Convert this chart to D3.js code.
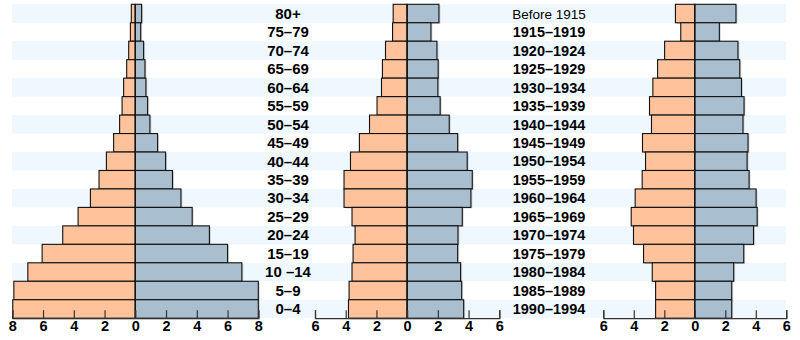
<!DOCTYPE html>
<html>
<head>
<meta charset="utf-8">
<script src="https://cdn.jsdelivr.net/npm/d3@7"></script>
<style>
  html, body { margin: 0; padding: 0; background: #fff; }
  svg { display: block; }
  text { font-family: "Liberation Sans", Arial, Helvetica, sans-serif; }
</style>
</head>
<body>
<svg id="chart" width="800" height="340"></svg>
<script>
// ---- Data (top row first) ----
const ageGroups = ["80+","75–79","70–74","65–69","60–64","55–59","50–54","45–49","40–44","35–39","30–34","25–29","20–24","15–19","10 –14","5–9","0–4"];
const birthYears = ["Before 1915","1915–1919","1920–1924","1925–1929","1930–1934","1935–1939","1940–1944","1945–1949","1950–1954","1955–1959","1960–1964","1965–1969","1970–1974","1975–1979","1980–1984","1985–1989","1990–1994"];

// Pyramid 1
const p1Left  = [0.26,0.32,0.43,0.56,0.76,0.86,1.02,1.41,1.88,2.36,2.92,3.72,4.72,6.06,6.99,7.90,7.97];
const p1Right = [0.41,0.35,0.54,0.63,0.69,0.80,0.95,1.45,1.97,2.42,2.97,3.70,4.82,6.00,6.93,8.00,8.00];
// Pyramid 2
const p2Left  = [0.91,0.95,1.41,1.61,1.67,1.96,2.45,3.11,3.69,4.11,4.11,3.59,3.39,3.52,3.59,3.78,3.82];
const p2Right = [2.07,1.55,1.94,2.02,2.00,2.15,2.74,3.29,3.91,4.24,4.15,3.59,3.31,3.29,3.48,3.55,3.68];
// Pyramid 3
const p3Left  = [1.27,0.92,1.98,2.44,2.75,2.97,2.84,3.43,3.23,3.45,3.91,4.17,4.02,3.36,2.79,2.57,2.57];
const p3Right = [2.70,1.61,2.83,2.95,3.06,3.23,3.16,3.49,3.43,3.56,4.02,4.09,3.85,3.21,2.55,2.42,2.42];

const p1Ticks = [-8,-6,-4,-2,0,2,4,6,8];
const p23Ticks = [-6,-4,-2,0,2,4,6];

// ---- Layout ----
const svg = d3.select("#chart");
const plotTop = 4.3, plotBottom = 318.2;
const y = d3.scaleBand().domain(d3.range(ageGroups.length)).range([plotTop, plotBottom]).padding(0);

const leftColor = "#ffc29b";
const rightColor = "#a9bfcf";
const stripeColor = "#eef8fe";

// Stripes
svg.append("g").selectAll("rect")
  .data(d3.range(ageGroups.length).filter(i => i % 2 === 0))
  .join("rect")
  .attr("x", 12).attr("width", 786 - 12)
  .attr("y", i => y(i)).attr("height", y.bandwidth())
  .attr("fill", stripeColor);

const panels = [
  { left: p1Left, right: p1Right, domain: [-8, 8], range: [12.3, 258.3], ticks: p1Ticks },
  { left: p2Left, right: p2Right, domain: [-6, 6], range: [315, 499.3], ticks: p23Ticks },
  { left: p3Left, right: p3Right, domain: [-6, 6], range: [603.3, 786.3], ticks: p23Ticks }
];

panels.forEach(p => {
  const x = d3.scaleLinear().domain(p.domain).range(p.range);
  const g = svg.append("g");
  const rows = d3.range(ageGroups.length);

  // shadows
  g.append("g").selectAll("rect").data(rows).join("rect")
    .attr("x", i => x(-p.left[i]) + 1.5)
    .attr("width", i => x(p.right[i]) - x(-p.left[i]))
    .attr("y", i => y(i) + 1.2)
    .attr("height", y.bandwidth())
    .attr("fill", "#000").attr("opacity", 0.15);

  // left bars
  g.append("g").selectAll("rect").data(rows).join("rect")
    .attr("x", i => x(-p.left[i]))
    .attr("width", i => x(0) - x(-p.left[i]))
    .attr("y", i => y(i))
    .attr("height", y.bandwidth())
    .attr("fill", leftColor).attr("stroke", "#111").attr("stroke-width", 1.1);

  // right bars
  g.append("g").selectAll("rect").data(rows).join("rect")
    .attr("x", x(0))
    .attr("width", i => x(p.right[i]) - x(0))
    .attr("y", i => y(i))
    .attr("height", y.bandwidth())
    .attr("fill", rightColor).attr("stroke", "#111").attr("stroke-width", 1.1);

  // center line
  g.append("line")
    .attr("x1", x(0)).attr("x2", x(0))
    .attr("y1", plotTop).attr("y2", plotBottom)
    .attr("stroke", "#111").attr("stroke-width", 1.2);

  // axis
  const axis = d3.axisBottom(x)
    .tickValues(p.ticks)
    .tickFormat(d => Math.abs(d))
    .tickSizeInner(-8)
    .tickSizeOuter(-8)
    .tickPadding(3);
  const ag = g.append("g").attr("transform", `translate(0,${plotBottom})`).call(axis);
  ag.select(".domain").attr("stroke", "#333").attr("stroke-width", 1.2);
  ag.selectAll(".tick line").attr("stroke", "#333").attr("stroke-width", 1.2);
  ag.selectAll(".tick text")
    .attr("fill", "#000")
    .style("font-family", "'Liberation Sans', Arial, sans-serif")
    .style("font-size", "14.5px")
    .style("font-weight", "bold");
});

// Row labels
svg.append("g").selectAll("text").data(ageGroups).join("text")
  .attr("x", 288).attr("y", (d, i) => y(i) + y.bandwidth() / 2 + 5.3)
  .attr("text-anchor", "middle")
  .style("font-size", "15px").style("font-weight", "bold")
  .attr("fill", "#000")
  .text(d => d);

svg.append("g").selectAll("text").data(birthYears).join("text")
  .attr("x", 549).attr("y", (d, i) => y(i) + y.bandwidth() / 2 + 5.2)
  .attr("text-anchor", "middle")
  .style("font-size", (d, i) => i === 0 ? "13.5px" : "14.5px")
  .style("font-weight", (d, i) => i === 0 ? "normal" : "bold")
  .attr("fill", "#000")
  .text(d => d);
</script>
</body>
</html>
